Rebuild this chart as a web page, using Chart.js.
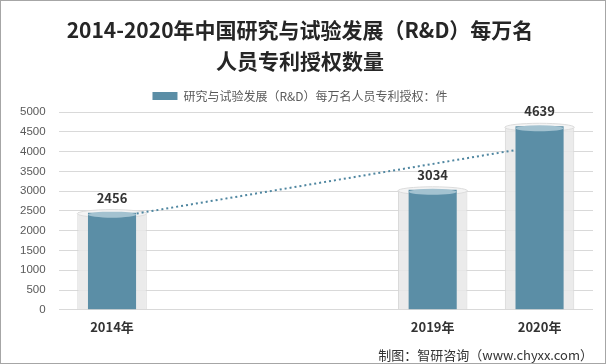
<!DOCTYPE html>
<html>
<head>
<meta charset="utf-8">
<script src="https://cdn.jsdelivr.net/npm/chart.js@4.4.0/dist/chart.umd.min.js"></script>
<style>
    body { margin: 0; background: #fff; }
    #wrap { width: 606px; height: 364px; box-sizing: border-box; border: 1px solid #a6a6a6; }
</style>
</head>
<body>
<div id="wrap"><canvas id="myChart" width="604" height="362"></canvas></div>
<script>
// Categories (empty slots keep the gap between 2014 and 2019)
const years = ['2014年', '', '', '2019年', '2020年'];

// Patents per 10,000 R&D staff
const patents = [2456, null, null, 3034, 4639];

// Dotted trend line at both ends
const trend = [2330, null, null, null, 4140];

// Y axis ticks
const yMax = 5000;
const yStep = 500;

const seriesName = '研究与试验发展（R&D）每万名人员专利授权：件';
const cjk = '"Noto Sans CJK SC", "Noto Sans", sans-serif';

// Draw the cylinder caps and the value labels
const cylinderPlugin = {
    id: 'cylinder',
    afterDatasetDraw(chart, args) {
        const ctx = chart.ctx;
        const meta = args.meta;
        ctx.save();
        meta.data.forEach(function(bar, i) {
            if (patents[i] === null) return;
            const w = bar.width;
            if (args.index === 0) {
                // grey glass tube top
                ctx.beginPath();
                ctx.ellipse(bar.x, bar.y + 1, w / 2, 4, 0, 0, Math.PI * 2);
                ctx.fillStyle = '#f4f4f4';
                ctx.fill();
                ctx.strokeStyle = '#dcdcdc';
                ctx.lineWidth = 1;
                ctx.stroke();
            } else if (args.index === 2) {
                // lighter top of the blue bar
                ctx.beginPath();
                ctx.ellipse(bar.x, bar.y + 2, w / 2, 3, 0, 0, Math.PI * 2);
                ctx.fillStyle = '#a3c2d0';
                ctx.fill();
                // value label
                ctx.fillStyle = '#333';
                ctx.font = 'bold 13px ' + cjk;
                ctx.textAlign = 'center';
                ctx.textBaseline = 'middle';
                ctx.fillText(String(patents[i]), bar.x, bar.y - 15);
            }
        });
        ctx.restore();
    }
};

document.addEventListener('DOMContentLoaded', function() {
    const ctx = document.getElementById('myChart').getContext('2d');
    const myChart = new Chart(ctx, {
        type: 'bar',
        data: {
            labels: years,
            datasets: [{
                label: 'tube',
                data: patents,
                backgroundColor: 'rgba(232, 232, 232, 0.85)',
                borderColor: '#d6d6d6',
                borderWidth: 1,
                barPercentage: 0.65,
                categoryPercentage: 1,
                grouped: false,
                order: 3
            }, {
                type: 'line',
                label: 'trend',
                data: trend,
                spanGaps: true,
                borderColor: '#4f86a0',
                borderWidth: 2,
                borderDash: [2, 3],
                pointRadius: 0,
                order: 2
            }, {
                label: seriesName,
                data: patents,
                backgroundColor: '#5b8ea6',
                borderColor: '#5b8ea6',
                borderWidth: 0,
                barPercentage: 0.45,
                categoryPercentage: 1,
                grouped: false,
                order: 1
            }]
        },
        options: {
            responsive: false,
            animation: false,
            layout: {
                padding: { left: 6, right: 12, top: 0, bottom: 0 }
            },
            plugins: {
                title: {
                    display: true,
                    text: ['2014-2020年中国研究与试验发展（R&D）每万名', '人员专利授权数量'],
                    color: '#262626',
                    font: { family: cjk, size: 21, weight: 'bold', lineHeight: 1.5 },
                    padding: { top: 13, bottom: 11 }
                },
                subtitle: {
                    display: true,
                    position: 'bottom',
                    align: 'end',
                    text: '制图：智研咨询（www.chyxx.com）',
                    color: '#333',
                    font: { family: cjk, size: 13 },
                    padding: { top: 4, bottom: 0 }
                },
                legend: {
                    labels: {
                        filter: function(item) { return item.datasetIndex === 2; },
                        boxWidth: 25,
                        boxHeight: 8,
                        padding: 2,
                        color: '#595959',
                        font: { family: cjk, size: 12 }
                    }
                },
                tooltip: { enabled: false }
            },
            scales: {
                x: {
                    grid: { display: false, drawTicks: false },
                    border: { display: false },
                    ticks: {
                        color: '#333',
                        font: { family: cjk, size: 13, weight: 'bold' },
                        padding: 9,
                        maxRotation: 0,
                        autoSkip: false
                    }
                },
                y: {
                    min: 0,
                    max: yMax,
                    grid: { color: '#d9d9d9', drawTicks: false },
                    border: { display: false },
                    ticks: {
                        stepSize: yStep,
                        color: '#595959',
                        font: { family: '"Liberation Sans", sans-serif', size: 11.5 },
                        padding: 13,
                        callback: function(value) { return String(value); }
                    }
                }
            }
        },
        plugins: [cylinderPlugin]
    });
});
</script>
</body>
</html>
